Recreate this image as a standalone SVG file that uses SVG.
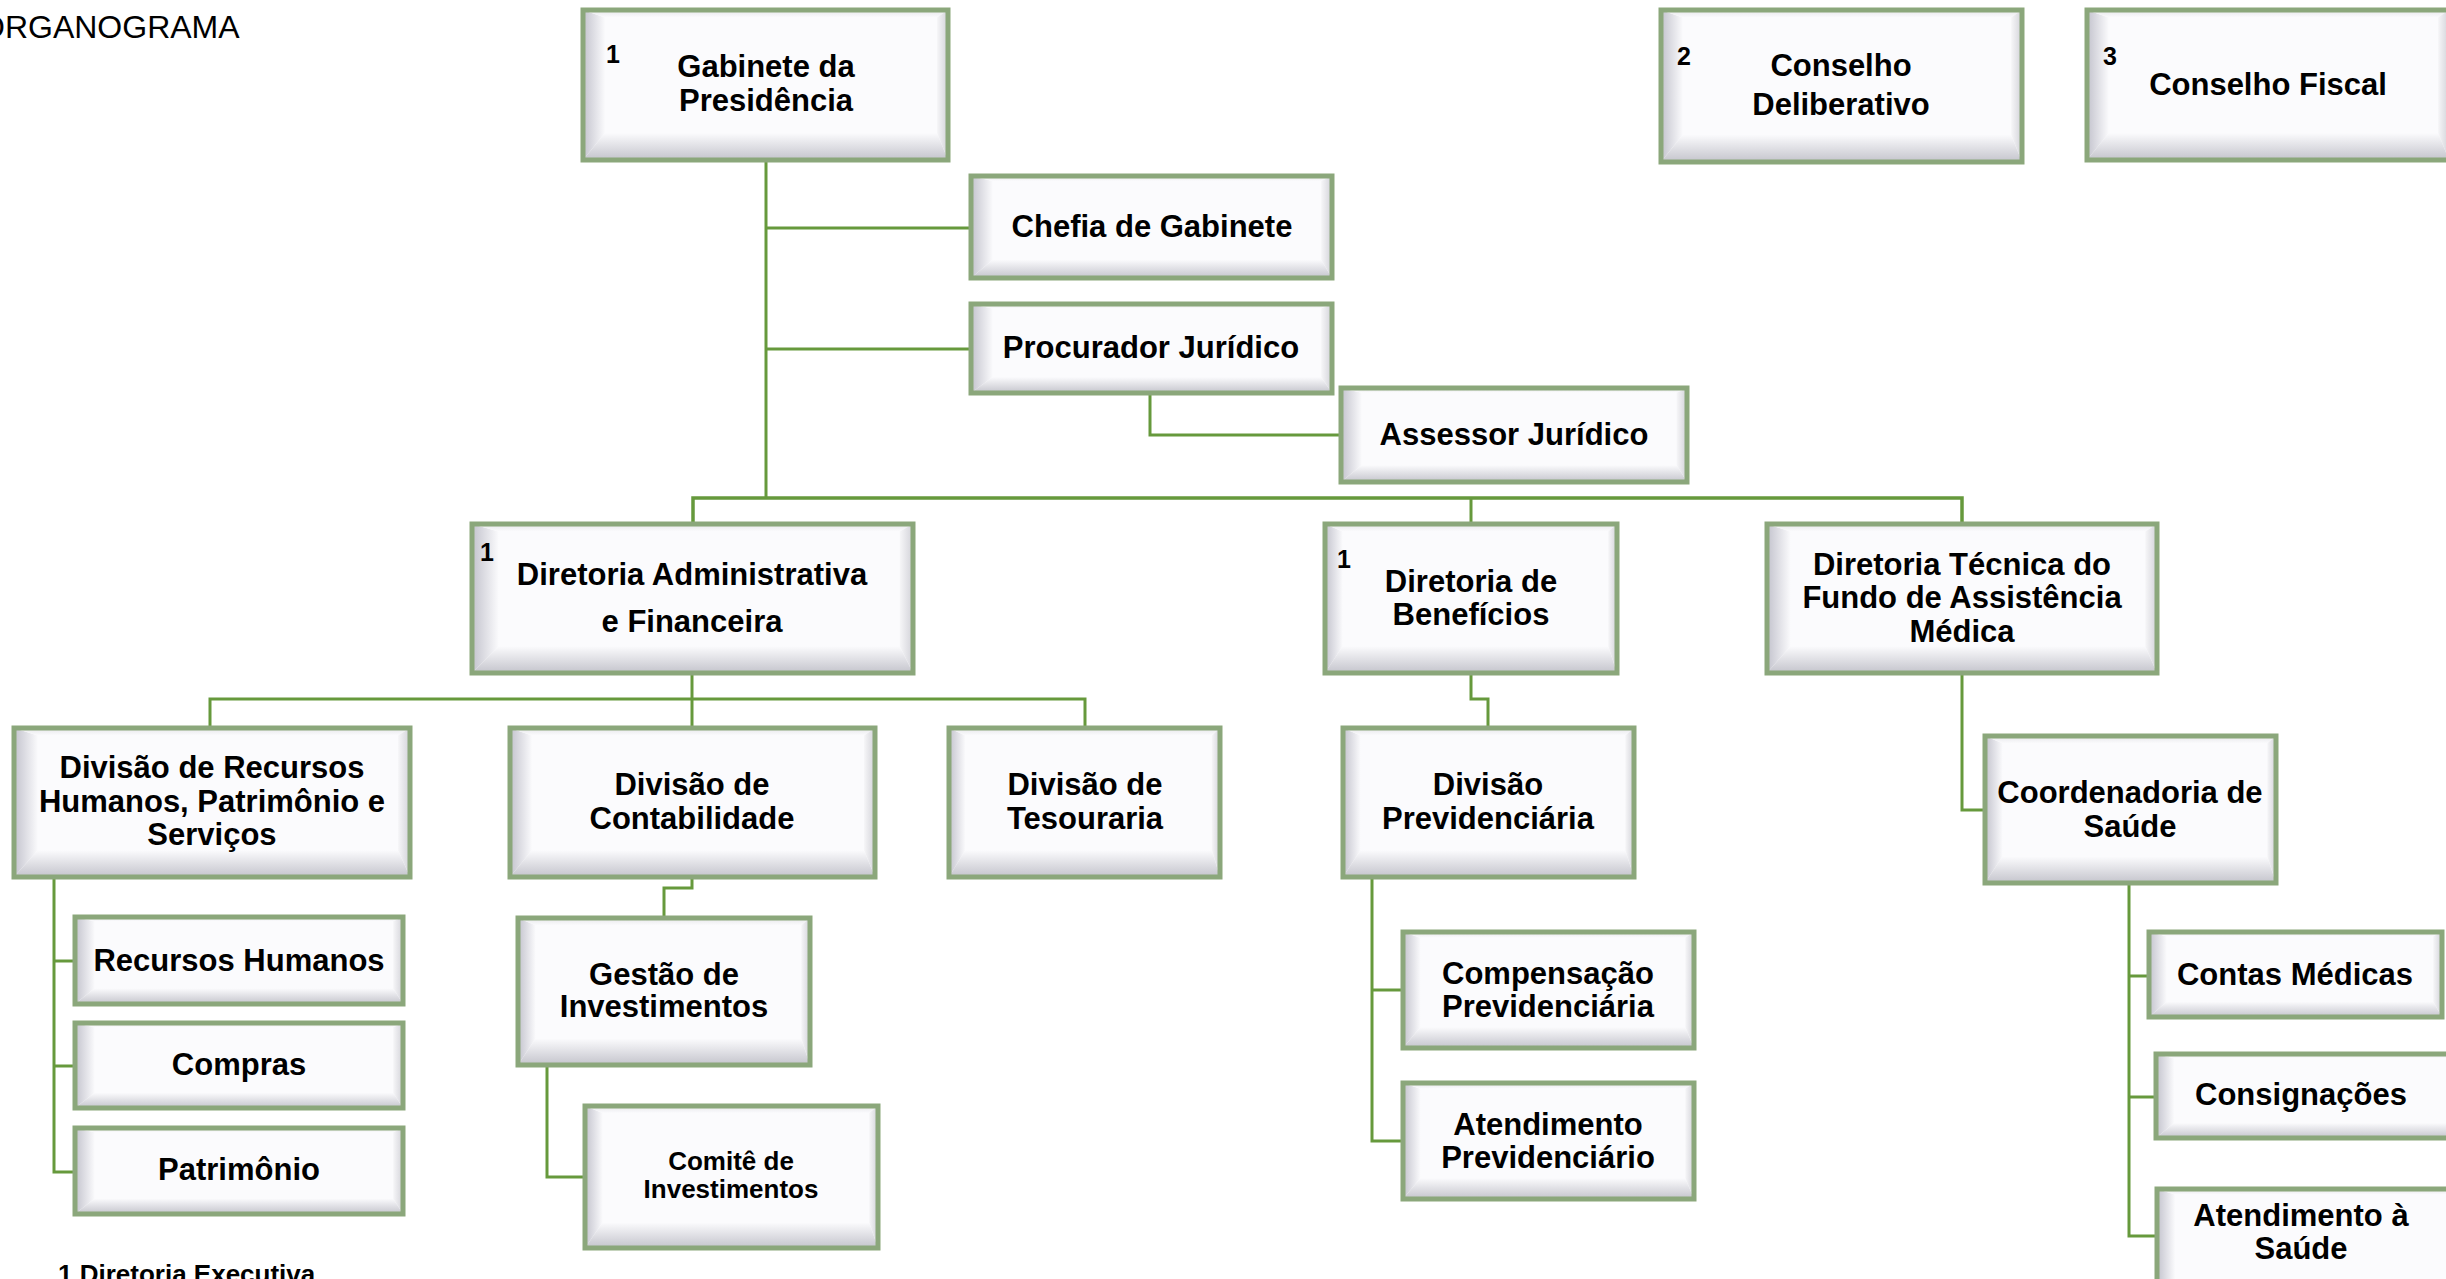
<svg xmlns="http://www.w3.org/2000/svg" xmlns:xlink="http://www.w3.org/1999/xlink" width="2446" height="1279" viewBox="0 0 2446 1279">
<defs>
<linearGradient id="gL" x1="0" y1="0" x2="1" y2="0"><stop offset="0" stop-color="#c3c3cd"/><stop offset="1" stop-color="#fafafc"/></linearGradient>
<linearGradient id="gB" x1="0" y1="0" x2="0" y2="1"><stop offset="0" stop-color="#fbfbfd"/><stop offset="1" stop-color="#c4c4cc"/></linearGradient>
<linearGradient id="gT" x1="0" y1="0" x2="0" y2="1"><stop offset="0" stop-color="#e6e6ea"/><stop offset="1" stop-color="#fbfbfd"/></linearGradient>
<linearGradient id="gR" x1="0" y1="0" x2="1" y2="0"><stop offset="0" stop-color="#f6f6f8"/><stop offset="1" stop-color="#d2d2d8"/></linearGradient>
<symbol id="bevel" viewBox="0 0 100 100" preserveAspectRatio="none">
<rect x="0" y="0" width="100" height="100" fill="#fbfbfd"/>
<polygon points="0,0 6,5 6,82 0,100" fill="url(#gL)"/>
<polygon points="0,100 6,82 97,82 100,100" fill="url(#gB)"/>
<polygon points="0,0 100,0 97,5 6,5" fill="url(#gT)"/>
<polygon points="100,0 100,100 97,82 97,5" fill="url(#gR)"/>
</symbol>
</defs>
<style>
.bd{fill:none;stroke:#8ba77b;stroke-width:5}
.t{font-family:"Liberation Sans",Arial,sans-serif;font-weight:bold;font-size:31px;fill:#000;text-anchor:middle}
.s{font-size:26px}
.n{font-family:"Liberation Sans",Arial,sans-serif;font-weight:bold;font-size:25px;fill:#000}
.c{fill:none;stroke:#66993c;stroke-width:3}
.cb{fill:none;stroke:#66993c;stroke-width:3.5}
</style>
<rect width="2446" height="1279" fill="#ffffff"/>
<text x="-20" y="38" font-family="Liberation Sans, Arial, sans-serif" font-size="32" fill="#000">ORGANOGRAMA</text>
<text x="58" y="1283" font-family="Liberation Sans, Arial, sans-serif" font-weight="bold" font-size="26" fill="#000">1 Diretoria Executiva</text>

<g id="connectors">
<path class="c" d="M766 160 V498"/>
<path class="c" d="M766 228 H971"/>
<path class="c" d="M766 349 H971"/>
<path class="c" d="M1150 393 V435 H1341"/>
<path class="cb" d="M693 524 V498 H1962 V524"/>
<path class="c" d="M1471 498 V524"/>
<path class="c" d="M692 673 V728"/>
<path class="c" d="M210 728 V699 H1085 V728"/>
<path class="c" d="M1471 673 V699 H1488 V728"/>
<path class="c" d="M1962 673 V810 H1985"/>
<path class="c" d="M54 877 V1172 H75"/>
<path class="c" d="M54 961 H75"/>
<path class="c" d="M54 1066 H75"/>
<path class="c" d="M692 877 V888 H664 V918"/>
<path class="c" d="M547 1065 V1177 H585"/>
<path class="c" d="M1372 877 V1141 H1403"/>
<path class="c" d="M1372 990 H1403"/>
<path class="c" d="M2129 883 V1236 H2157"/>
<path class="c" d="M2129 976 H2149"/>
<path class="c" d="M2129 1097 H2156"/>
</g>

<g id="gabinete">
<use href="#bevel" x="583" y="10" width="365" height="150"/>
<rect class="bd" x="583" y="10" width="365" height="150"/>
<text class="n" x="606" y="63">1</text>
<text class="t" x="766" y="77">Gabinete da</text>
<text class="t" x="766" y="111">Presidência</text>
</g>

<g id="chefia">
<use href="#bevel" x="971" y="176" width="361" height="102"/>
<rect class="bd" x="971" y="176" width="361" height="102"/>
<text class="t" x="1152" y="237">Chefia de Gabinete</text>
</g>

<g id="procurador">
<use href="#bevel" x="971" y="304" width="361" height="89"/>
<rect class="bd" x="971" y="304" width="361" height="89"/>
<text class="t" x="1151" y="358">Procurador Jurídico</text>
</g>

<g id="assessor">
<use href="#bevel" x="1341" y="388" width="346" height="94"/>
<rect class="bd" x="1341" y="388" width="346" height="94"/>
<text class="t" x="1514" y="445">Assessor Jurídico</text>
</g>

<g id="conselho-deliberativo">
<use href="#bevel" x="1661" y="10" width="361" height="152"/>
<rect class="bd" x="1661" y="10" width="361" height="152"/>
<text class="n" x="1677" y="65">2</text>
<text class="t" x="1841" y="76">Conselho</text>
<text class="t" x="1841" y="115">Deliberativo</text>
</g>

<g id="conselho-fiscal">
<use href="#bevel" x="2087" y="10" width="362" height="150"/>
<rect class="bd" x="2087" y="10" width="362" height="150"/>
<text class="n" x="2103" y="65">3</text>
<text class="t" x="2268" y="95">Conselho Fiscal</text>
</g>

<g id="diretoria-adm">
<use href="#bevel" x="472" y="524" width="441" height="149"/>
<rect class="bd" x="472" y="524" width="441" height="149"/>
<text class="n" x="480" y="561">1</text>
<text class="t" x="692" y="585">Diretoria Administrativa</text>
<text class="t" x="692" y="632">e Financeira</text>
</g>

<g id="diretoria-beneficios">
<use href="#bevel" x="1325" y="524" width="292" height="149"/>
<rect class="bd" x="1325" y="524" width="292" height="149"/>
<text class="n" x="1337" y="568">1</text>
<text class="t" x="1471" y="592">Diretoria de</text>
<text class="t" x="1471" y="625">Benefícios</text>
</g>

<g id="diretoria-tecnica">
<use href="#bevel" x="1767" y="524" width="390" height="149"/>
<rect class="bd" x="1767" y="524" width="390" height="149"/>
<text class="t" x="1962" y="575">Diretoria Técnica do</text>
<text class="t" x="1962" y="608">Fundo de Assistência</text>
<text class="t" x="1962" y="642">Médica</text>
</g>

<g id="divisao-rh">
<use href="#bevel" x="14" y="728" width="396" height="149"/>
<rect class="bd" x="14" y="728" width="396" height="149"/>
<text class="t" x="212" y="778">Divisão de Recursos</text>
<text class="t" x="212" y="812">Humanos, Patrimônio e</text>
<text class="t" x="212" y="845">Serviços</text>
</g>

<g id="divisao-contabilidade">
<use href="#bevel" x="510" y="728" width="365" height="149"/>
<rect class="bd" x="510" y="728" width="365" height="149"/>
<text class="t" x="692" y="795">Divisão de</text>
<text class="t" x="692" y="829">Contabilidade</text>
</g>

<g id="divisao-tesouraria">
<use href="#bevel" x="949" y="728" width="271" height="149"/>
<rect class="bd" x="949" y="728" width="271" height="149"/>
<text class="t" x="1085" y="795">Divisão de</text>
<text class="t" x="1085" y="829">Tesouraria</text>
</g>

<g id="divisao-previdenciaria">
<use href="#bevel" x="1343" y="728" width="291" height="149"/>
<rect class="bd" x="1343" y="728" width="291" height="149"/>
<text class="t" x="1488" y="795">Divisão</text>
<text class="t" x="1488" y="829">Previdenciária</text>
</g>

<g id="coordenadoria-saude">
<use href="#bevel" x="1985" y="736" width="291" height="147"/>
<rect class="bd" x="1985" y="736" width="291" height="147"/>
<text class="t" x="2130" y="803">Coordenadoria de</text>
<text class="t" x="2130" y="837">Saúde</text>
</g>

<g id="recursos-humanos">
<use href="#bevel" x="75" y="917" width="328" height="87"/>
<rect class="bd" x="75" y="917" width="328" height="87"/>
<text class="t" x="239" y="971">Recursos Humanos</text>
</g>

<g id="compras">
<use href="#bevel" x="75" y="1023" width="328" height="85"/>
<rect class="bd" x="75" y="1023" width="328" height="85"/>
<text class="t" x="239" y="1075">Compras</text>
</g>

<g id="patrimonio">
<use href="#bevel" x="75" y="1128" width="328" height="86"/>
<rect class="bd" x="75" y="1128" width="328" height="86"/>
<text class="t" x="239" y="1180">Patrimônio</text>
</g>

<g id="gestao-investimentos">
<use href="#bevel" x="518" y="918" width="292" height="147"/>
<rect class="bd" x="518" y="918" width="292" height="147"/>
<text class="t" x="664" y="985">Gestão de</text>
<text class="t" x="664" y="1017">Investimentos</text>
</g>

<g id="comite-investimentos">
<use href="#bevel" x="585" y="1106" width="293" height="142"/>
<rect class="bd" x="585" y="1106" width="293" height="142"/>
<text class="t s" x="731" y="1170">Comitê de</text>
<text class="t s" x="731" y="1198">Investimentos</text>
</g>

<g id="compensacao">
<use href="#bevel" x="1403" y="932" width="291" height="116"/>
<rect class="bd" x="1403" y="932" width="291" height="116"/>
<text class="t" x="1548" y="984">Compensação</text>
<text class="t" x="1548" y="1017">Previdenciária</text>
</g>

<g id="atendimento-previdenciario">
<use href="#bevel" x="1403" y="1083" width="291" height="116"/>
<rect class="bd" x="1403" y="1083" width="291" height="116"/>
<text class="t" x="1548" y="1135">Atendimento</text>
<text class="t" x="1548" y="1168">Previdenciário</text>
</g>

<g id="contas-medicas">
<use href="#bevel" x="2149" y="932" width="293" height="85"/>
<rect class="bd" x="2149" y="932" width="293" height="85"/>
<text class="t" x="2295" y="985">Contas Médicas</text>
</g>

<g id="consignacoes">
<use href="#bevel" x="2156" y="1054" width="300" height="84"/>
<rect class="bd" x="2156" y="1054" width="300" height="84"/>
<text class="t" x="2301" y="1105">Consignações</text>
</g>

<g id="atendimento-saude">
<use href="#bevel" x="2157" y="1189" width="300" height="110"/>
<rect class="bd" x="2157" y="1189" width="300" height="110"/>
<text class="t" x="2301" y="1226">Atendimento à</text>
<text class="t" x="2301" y="1259">Saúde</text>
</g>
</svg>
